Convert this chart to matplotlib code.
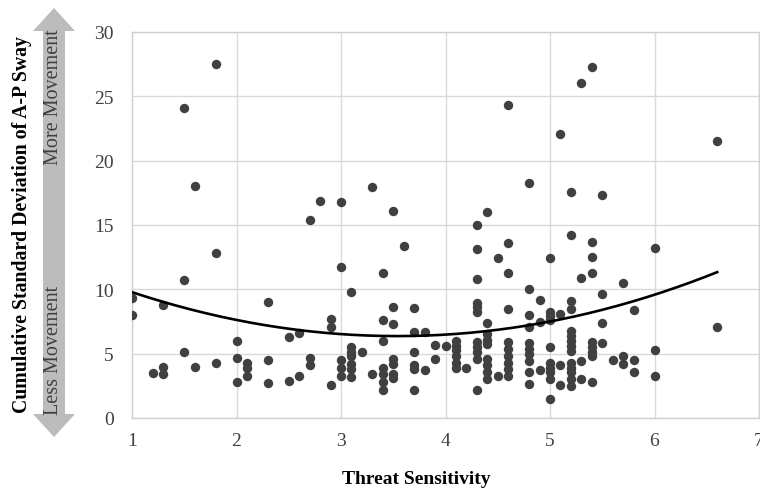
import numpy as np
import matplotlib
matplotlib.use("Agg")
import matplotlib.pyplot as plt
from matplotlib.patches import Polygon

plt.rcParams['font.family'] = ['Liberation Serif', 'DejaVu Serif']

# ---- data ----
x_vals = (
    [1.0]*2 + [1.2] + [1.3]*3 + [1.5]*3 + [1.6]*2 + [1.8]*3 + [2.0]*3 + [2.1]*3 +
    [2.3]*3 + [2.5]*2 + [2.6]*2 + [2.7]*3 + [2.8] + [2.9]*3 + [3.0]*5 + [3.1]*7 +
    [3.2] + [3.3]*2 + [3.4]*7 + [3.5]*7 + [3.6] + [3.7]*6 + [3.8]*2 + [3.9]*2 +
    [4.0] + [4.1]*6 + [4.2] + [4.3]*11 + [4.4]*9 + [4.5]*2 + [4.6]*10 + [4.8]*10 +
    [4.9]*3 + [5.0]*10 + [5.1]*4 + [5.2]*14 + [5.3]*4 + [5.4]*9 + [5.5]*4 + [5.6] +
    [5.7]*3 + [5.8]*3 + [6.0]*3 + [6.6]*2
)
y_vals = (
    [9.3, 8.0] + [3.5] + [8.8, 4.0, 3.4] + [24.1, 10.7, 5.1] + [18.0, 4.0] +
    [27.5, 12.8, 4.3] + [6.0, 4.7, 2.8] + [4.3, 3.9, 3.3] + [9.0, 4.5, 2.75] +
    [6.3, 2.9] + [6.6, 3.3] + [15.4, 4.7, 4.1] + [16.9] + [7.7, 7.1, 2.6] +
    [16.8, 11.7, 4.5, 3.9, 3.3] + [9.8, 5.5, 5.1, 4.8, 4.2, 3.8, 3.2] + [5.1] +
    [17.95, 3.4] + [11.3, 7.6, 6.0, 3.9, 3.4, 2.8, 2.2] +
    [16.1, 8.6, 7.3, 4.6, 4.2, 3.4, 3.1] + [13.4] + [8.55, 6.65, 5.1, 4.1, 3.8, 2.2] +
    [6.65, 3.7] + [5.7, 4.55] + [5.6] + [6.0, 5.6, 5.25, 4.85, 4.3, 3.85] + [3.9] +
    [15.0, 13.1, 10.8, 8.9, 8.6, 8.2, 5.9, 5.5, 5.1, 4.6, 2.2] +
    [16.0, 7.4, 6.5, 6.1, 5.75, 4.6, 4.1, 3.55, 3.0] + [12.4, 3.3] +
    [24.3, 13.6, 11.3, 8.5, 5.9, 5.4, 4.85, 4.3, 3.8, 3.3] +
    [18.3, 10.0, 8.0, 7.05, 5.8, 5.4, 5.0, 4.45, 3.6, 2.65] + [9.2, 7.5, 3.75] +
    [12.4, 8.2, 7.9, 7.6, 5.55, 4.3, 3.9, 3.55, 3.0, 1.5] + [22.1, 8.1, 4.1, 2.6] +
    [17.6, 14.2, 9.1, 8.5, 6.8, 6.4, 6.0, 5.6, 5.2, 4.3, 3.9, 3.55, 3.0, 2.5] +
    [26.0, 10.9, 4.45, 3.0] + [27.3, 13.7, 12.5, 11.3, 5.9, 5.5, 5.1, 4.8, 2.8] +
    [17.3, 9.6, 7.4, 5.8] + [4.5] + [10.5, 4.8, 4.2] + [8.4, 4.5, 3.55] +
    [13.2, 5.3, 3.25] + [21.5, 7.1]
)
trend_coef = [0.53, -3.75, 13.0]   # quadratic trendline
trend_range = [1.0, 6.6]
x_ticks = [1, 2, 3, 4, 5, 6, 7]
y_ticks = [0, 5, 10, 15, 20, 25, 30]

W, H = 760, 489
fig = plt.figure(figsize=(W/100, H/100), dpi=100)
L, R, T, B = 132, 759, 33, 419
ax = fig.add_axes([L/W, 1 - B/H, (R-L)/W, (B-T)/H])

ax.scatter(x_vals, y_vals, s=46, color='#404040', zorder=3, linewidths=0)
xt = np.linspace(trend_range[0], trend_range[1], 200)
ax.plot(xt, np.polyval(trend_coef, xt), color='black', lw=1.9, zorder=4)

ax.set_xlim(1, 7)
ax.set_ylim(0, 30)
ax.set_xticks(x_ticks)
ax.set_yticks(y_ticks)
ax.grid(True, color='#d9d9d9', lw=1.0, zorder=0)
ax.set_axisbelow(True)
for s in ax.spines.values():
    s.set_color('#d0d0d0')
    s.set_linewidth(1.0)
ax.tick_params(length=0, labelsize=14, colors='#404040')
ax.tick_params(axis='y', pad=13)
ax.tick_params(axis='x', pad=10)
for lab in ax.get_xticklabels() + ax.get_yticklabels():
    lab.set_clip_on(False)

fig.text(416/W, 1 - 480/H, 'Threat Sensitivity', ha='center', va='center',
         fontsize=14, fontweight='bold', color='black')

# double-headed gray arrow (decoration)
cx, sh, hh = 54, 11, 21
top_tip, top_base, bot_base, bot_tip = 9, 32, 415, 438
pts = [(cx, top_tip), (cx+hh, top_base), (cx+sh, top_base), (cx+sh, bot_base),
       (cx+hh, bot_base), (cx, bot_tip), (cx-hh, bot_base), (cx-sh, bot_base),
       (cx-sh, top_base), (cx-hh, top_base)]
pts = [(px/W, 1 - py/H) for px, py in pts]
fig.patches.append(Polygon(pts, closed=True, transform=fig.transFigure,
                           facecolor='#bcbcbc', edgecolor='none'))
fig.text(cx/W, 1 - 97/H, 'More Movement', rotation=90, ha='center', va='center',
         fontsize=14.5, color='#404040')
fig.text(cx/W, 1 - 350/H, 'Less Movement', rotation=90, ha='center', va='center',
         fontsize=14.5, color='#404040')
fig.text(22/W, 1 - 225/H, 'Cumulative Standard Deviation of A-P Sway', rotation=90,
         ha='center', va='center', fontsize=14.2, fontweight='bold', color='black')

fig.savefig('out.png', dpi=100)
